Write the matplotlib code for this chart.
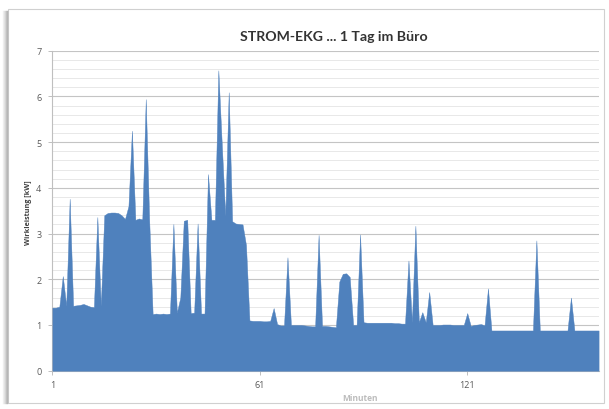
import matplotlib
matplotlib.use("Agg")
import matplotlib.pyplot as plt
from matplotlib.patches import Rectangle
from matplotlib.lines import Line2D
import numpy as np

title = "STROM-EKG ... 1 Tag im Büro"
y_label = "Wirkleistung [kW]"
x_label = "Minuten"
x_ticks = [1, 61, 121]
y_ticks = [0, 1, 2, 3, 4, 5, 6, 7]

# Active power (kW) per sample, samples 1..159
power_kw = [
    1.38, 1.38, 1.40, 2.07, 1.42, 3.76, 1.42, 1.43, 1.44, 1.46,   # 1-10
    1.43, 1.40, 1.39, 3.36, 1.42, 3.40, 3.45, 3.46, 3.46, 3.45,   # 11-20
    3.40, 3.32, 3.60, 5.25, 3.30, 3.33, 3.31, 5.94, 3.30, 1.24,   # 21-30
    1.25, 1.24, 1.25, 1.24, 1.25, 3.21, 1.27, 1.60, 3.28, 3.30,   # 31-40
    1.26, 1.27, 3.22, 1.25, 1.25, 4.30, 3.30, 3.30, 6.57, 4.95,   # 41-50
    3.39, 6.09, 3.27, 3.22, 3.21, 3.20, 2.75, 1.10, 1.09, 1.09,   # 51-60
    1.09, 1.08, 1.08, 1.09, 1.37, 1.02, 0.99, 0.99, 2.48, 1.00,   # 61-70
    1.00, 1.00, 1.00, 0.99, 0.98, 0.97, 0.97, 2.97, 0.98, 0.98,   # 71-80
    0.97, 0.96, 0.95, 1.95, 2.12, 2.13, 2.05, 1.00, 1.00, 2.98,   # 81-90
    1.06, 1.05, 1.05, 1.05, 1.05, 1.05, 1.05, 1.05, 1.05, 1.04,   # 91-100
    1.04, 1.03, 1.03, 2.41, 1.06, 3.17, 1.06, 1.28, 1.06, 1.72,   # 101-110
    1.00, 1.00, 1.00, 1.01, 1.01, 1.01, 1.00, 1.00, 1.00, 1.00,   # 111-120
    1.26, 0.98, 1.00, 1.01, 1.02, 0.99, 1.80, 0.88, 0.88, 0.88,   # 121-130
    0.88, 0.88, 0.88, 0.88, 0.88, 0.88, 0.88, 0.88, 0.88, 0.88,   # 131-140
    2.85, 0.88, 0.88, 0.88, 0.88, 0.88, 0.88, 0.88, 0.88, 0.88,   # 141-150
    1.60, 0.88, 0.88, 0.88, 0.88, 0.88, 0.88, 0.88, 0.88,         # 151-159
]
minutes = list(range(1, len(power_kw) + 1))

W, H = 609, 410
fig = plt.figure(figsize=(W / 100, H / 100), dpi=100)
fig.patch.set_facecolor("white")

# card frame with soft left shadow
for i, a in enumerate([0.05, 0.08, 0.12, 0.18, 0.25]):
    fig.add_artist(Line2D([(3 + i) / W, (3 + i) / W], [(H - 404) / H, (H - 12) / H],
                          transform=fig.transFigure, color="black", alpha=a, lw=1))
fig.add_artist(Rectangle((8 / W, (H - 404) / H), (604 - 8) / W, (404 - 10) / H,
                         transform=fig.transFigure, fill=False, edgecolor="#d0d0d0", lw=0.8))

left, right = 52.4 / W, 598.6 / W
bottom, top = (H - 371.7) / H, (H - 51.7) / H
ax = fig.add_axes([left, bottom, right - left, top - bottom])
ax.set_facecolor("white")

ax.fill_between(minutes, power_kw, 0, color="#4f81bd", lw=0.3, edgecolor="#4f81bd", zorder=3)

ax.set_xlim(1, len(power_kw))
ax.set_ylim(0, 7)
ax.set_yticks(y_ticks)
ax.set_yticks(np.arange(0, 7.01, 0.2), minor=True)
ax.set_xticks(x_ticks)
ax.set_xticklabels([str(t) for t in x_ticks])
ax.grid(axis="y", which="major", color="#c4c4c4", lw=0.8, zorder=0)
ax.grid(axis="y", which="minor", color="#e4e4e4", lw=0.6, zorder=0)
ax.set_axisbelow(True)

for s in ["top", "right"]:
    ax.spines[s].set_visible(False)
for s in ["left", "bottom"]:
    ax.spines[s].set_color("#bfbfbf")
    ax.spines[s].set_linewidth(0.8)

ax.tick_params(axis="y", which="major", length=3, width=0.7, color="#bfbfbf",
               labelsize=6.5, labelcolor="#595959", pad=5)
ax.tick_params(axis="y", which="minor", length=0)
ax.tick_params(axis="x", length=3, width=0.7, color="#bfbfbf",
               labelsize=6.5, labelcolor="#595959", pad=4)
for lab in ax.get_xticklabels() + ax.get_yticklabels():
    lab.set_family("Open Sans")

fig.text(29 / W, 1 - 213 / H, y_label, rotation=90, ha="center", va="center",
         fontsize=5.2, fontweight="bold", color="#404040", family="Open Sans")
fig.text(360 / W, 1 - 399 / H, x_label, ha="center", va="center",
         fontsize=6, fontweight="bold", color="#909090", family="Open Sans", alpha=0.6)
fig.text(334 / W, 1 - 37 / H, title, ha="center", va="center",
         fontsize=10.2, fontweight="bold", color="#333333", family="Lato")

fig.savefig("out.png", dpi=100, facecolor="white")
